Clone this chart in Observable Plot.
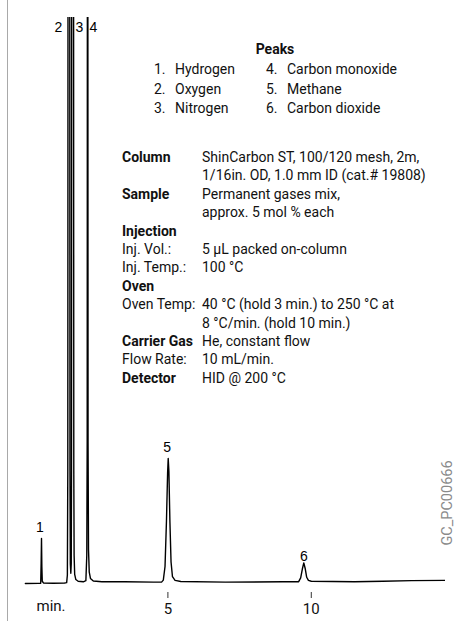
<!DOCTYPE html>
<html>
<head>
<meta charset="utf-8">
<script src="https://cdn.jsdelivr.net/npm/d3@7"></script>
<script src="https://cdn.jsdelivr.net/npm/@observablehq/plot@0.6"></script>
<style>
  html, body { margin: 0; padding: 0; background: #fff; }
  #wrap { position: relative; width: 460px; height: 621px; font-family: Roboto, "Liberation Sans", sans-serif; color: #111; overflow: hidden; }
  #chart { position: absolute; left: 0; top: 0; }
  .edge { position: absolute; left: 7px; top: 0; width: 1px; height: 621px; background: #a9a9a9; }
  .t { position: absolute; white-space: nowrap; font-size: 14px; }
  .b { font-weight: 700; }
  #code { position: absolute; left: 447px; top: 503px; transform: translate(-50%, -50%) rotate(-90deg); font-size: 14.5px; color: #8a8a8a; white-space: nowrap; }
</style>
</head>
<body>
<div id="wrap">
  <div id="chart"></div>
  <div class="edge"></div>
  <div id="code">GC_PC00666</div>
</div>
<script>
// Chromatogram trace (retention time in min, detector signal in relative units)
const times = [
  0.03, 0.50, 0.565, 0.580, 0.593, 0.605, 0.620, 0.660, 1.000, 1.400,
  1.470, 1.495, 1.510, 1.520, 1.575, 1.586, 1.598, 1.615, 1.630, 1.639,
  1.650, 1.708, 1.719, 1.730, 1.750, 1.790, 1.870, 2.050, 2.140, 2.172,
  2.186, 2.196, 2.206, 2.216, 2.232, 2.258, 2.300, 2.400, 2.700, 3.500,
  4.500, 4.780, 4.840, 4.900, 4.950, 4.990, 5.011, 5.035, 5.070, 5.110,
  5.160, 5.250, 5.450, 7.000, 9.000, 9.560, 9.630, 9.690, 9.739, 9.790,
  9.840, 9.900, 10.000, 11.500, 12.500, 13.500, 14.680
];
const signal = [
  0.00, 0.02, 0.05, 3.5, 7.95, 3.0, 0.4, 0.1, 0.05, 0.08,
  0.15, 1.5, 20, 150, 150, 20, 3.5, 1.8, 3.5, 20,
  150, 150, 20, 5, 1.6, 0.7, 0.4, 0.3, 0.5, 5,
  25, 150, 150, 25, 6, 2, 0.9, 0.45, 0.3, 0.3,
  0.25, 0.25, 0.6, 3, 11, 19.5, 22.1, 19.8, 11, 3.8,
  1.2, 0.55, 0.35, 0.25, 0.3, 0.32, 1.0, 2.6, 3.65, 2.6,
  1.1, 0.55, 0.4, 0.3, 0.4, 0.5, 0.55
];

// Peak labels on the trace
const peakLabels = ["1", "2", "3", "4", "5", "6"];
const labelTimes = [0.534, 1.186, 1.918, 2.406, 4.976, 9.74];
const labelLevels = [9.9, 98.3, 98.3, 98.3, 24.0, 4.82];

// Axis
const xTicks = [5, 10];
const xUnit = "min.";

// Peak list
const peakNumbers = ["1.", "2.", "3.", "4.", "5.", "6."];
const peakNames = ["Hydrogen", "Oxygen", "Nitrogen", "Carbon monoxide", "Methane", "Carbon dioxide"];

// Conditions
const infoLabels = ["Column", "", "Sample", "", "Injection", "Inj. Vol.:", "Inj. Temp.:", "Oven", "Oven Temp:", "", "Carrier Gas", "Flow Rate:", "Detector"];
const infoBold = [true, false, true, false, true, false, false, true, false, false, true, false, true];
const infoValues = [
  "ShinCarbon ST, 100/120 mesh, 2m,",
  "1/16in. OD, 1.0 mm ID (cat.# 19808)",
  "Permanent gases mix,",
  "approx. 5 mol % each",
  "",
  "5 µL packed on-column",
  "100 °C",
  "",
  "40 °C (hold 3 min.) to 250 °C at",
  "8 °C/min. (hold 10 min.)",
  "He, constant flow",
  "10 mL/min.",
  "HID @ 200 °C"
];

const trace = times.map((t, i) => ({t, v: signal[i]}));
const labels = peakLabels.map((l, i) => ({l, t: labelTimes[i], v: labelLevels[i]}));

const chart = Plot.plot({
  width: 460,
  height: 621,
  marginLeft: 24,
  marginRight: 15,
  marginTop: 17,
  marginBottom: 29,
  style: {fontFamily: "Roboto, sans-serif", fontSize: "14px", color: "#111", background: "transparent"},
  x: {domain: [0, 14.68], axis: null},
  y: {domain: [0, 100], range: [583, 17], axis: null},
  marks: [
    Plot.line(trace, {x: "t", y: "v", stroke: "#000", strokeWidth: 1.4, clip: true}),
    Plot.axisX({ticks: xTicks, tickSize: 6, tickPadding: 5, fontSize: 15, label: null, stroke: "#333", fill: "#111", tickFormat: d => String(d)}),
    Plot.text([xUnit], {frameAnchor: "bottom-left", dx: 12, dy: 18, textAnchor: "start", fontSize: 15, fill: "#111"}),
    Plot.text(labels, {x: "t", y: "v", text: "l", fontSize: 14, fontFamily: "Liberation Sans, Arial, sans-serif", fill: "#000000"})
  ]
});
document.getElementById("chart").appendChild(chart);

const wrap = document.getElementById("wrap");
function addText(txt, left, centerY, lh, cls, align) {
  const d = document.createElement("div");
  d.className = "t " + (cls || "");
  d.textContent = txt;
  d.style.lineHeight = lh + "px";
  d.style.top = (centerY - lh / 2) + "px";
  if (align === "center") { d.style.left = (left - 60) + "px"; d.style.width = "120px"; d.style.textAlign = "center"; }
  else d.style.left = left + "px";
  wrap.appendChild(d);
}
// Peaks header and list
addText("Peaks", 275, 49, 20, "b", "center");
peakNames.forEach((name, i) => {
  const col = i < 3 ? 0 : 1;
  const row = i % 3;
  const cy = 69 + row * 19.6;
  addText(peakNumbers[i], col ? 266 : 154, cy, 20);
  addText(name, col ? 287 : 175, cy, 20);
});
// Conditions block
infoLabels.forEach((lab, i) => {
  const cy = 157 + i * 18.4;
  if (lab) addText(lab, 122, cy, 18, infoBold[i] ? "b" : "");
  if (infoValues[i]) addText(infoValues[i], 202, cy, 18);
});
</script>
</body>
</html>
